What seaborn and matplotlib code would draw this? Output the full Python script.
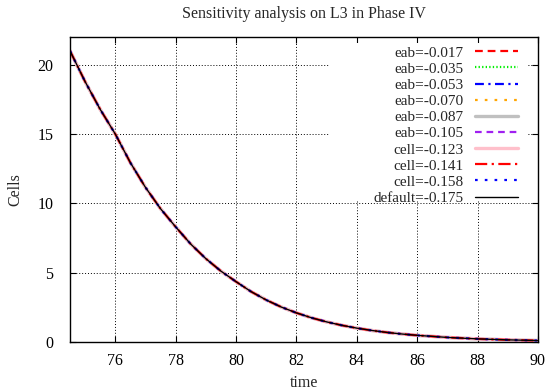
import matplotlib
matplotlib.use("Agg")
import matplotlib.pyplot as plt
from matplotlib.patches import Rectangle
import seaborn as sns
import pandas as pd

# ---- data ----
time = [74.5, 75.0, 75.5, 76.0, 76.5, 77.0, 77.5, 78.0, 78.5, 79.0, 79.5,
        80.0, 80.5, 81.0, 81.5, 82.0, 82.5, 83.0, 83.5, 84.0, 84.5, 85.0,
        85.5, 86.0, 87.0, 88.0, 89.0, 90.0]
cells = [21.0, 18.78, 16.78, 15.0, 12.93, 11.15, 9.61, 8.3, 7.06, 6.01, 5.11,
         4.35, 3.63, 3.03, 2.52, 2.1, 1.745, 1.45, 1.205, 1.0, 0.83, 0.69,
         0.575, 0.48, 0.33, 0.225, 0.155, 0.105]
series_labels = ["eab=-0.017", "eab=-0.035", "eab=-0.053", "eab=-0.070",
                 "eab=-0.087", "eab=-0.105", "cell=-0.123", "cell=-0.141",
                 "cell=-0.158", "default=-0.175"]
xticks = [76, 78, 80, 82, 84, 86, 88, 90]
yticks = [0, 5, 10, 15, 20]

# ---- styles ----
styles = [
    dict(color="#ff0000", lw=1.6, dashes=(3.5, 2.2)),
    dict(color="#00ee00", lw=1.6, dashes=(0.6, 1.0)),
    dict(color="#0000ff", lw=1.6, dashes=(4, 2, 1, 2)),
    dict(color="#ffa500", lw=1.6, dashes=(1.2, 3.2)),
    dict(color="#c0c0c0", lw=2.4, dashes=None),
    dict(color="#a020f0", lw=1.6, dashes=(3, 2.2)),
    dict(color="#ffc0cb", lw=2.4, dashes=None),
    dict(color="#ff0000", lw=1.6, dashes=(5.5, 2, 1, 2)),
    dict(color="#0000ff", lw=1.6, dashes=(1.2, 3.2)),
    dict(color="#000000", lw=1.0, dashes=None),
]

sns.set_theme(style="ticks")
plt.rcParams["font.family"] = ["Liberation Serif", "DejaVu Serif"]

fig = plt.figure(figsize=(5.47, 3.92), dpi=100)
ax = fig.add_axes([70 / 547, 50 / 392, 468 / 547, 305 / 392])

df = pd.DataFrame({"time": time, "Cells": cells})
for lab, st in zip(series_labels, styles):
    sns.lineplot(data=df, x="time", y="Cells", ax=ax, color=st["color"],
                 lw=st["lw"], label=lab)
    l = ax.get_lines()[-1]
    if st["dashes"] is not None:
        l.set_dashes(st["dashes"])

ax.set_xlim(74.5, 90)
ax.set_ylim(0, 22)
ax.set_xticks(xticks)
ax.set_yticks(yticks)
ax.grid(True, color="black", linestyle=(0, (1, 2)), linewidth=0.7)
ax.tick_params(direction="in", length=4, width=0.8, top=True, right=True,
               labelsize=11.5, colors="black")
ax.tick_params(axis="x", pad=8)
ax.tick_params(axis="y", pad=12)
for s in ax.spines.values():
    s.set_visible(True)
    s.set_color("black")
    s.set_linewidth(1.0)

ax.set_title("Sensitivity analysis on L3 in Phase IV", fontsize=11.5, pad=14)
ax.set_xlabel("time", fontsize=11.5, labelpad=4)
ax.set_ylabel("Cells", fontsize=11.5, labelpad=10)

# white key background (as in gnuplot)
ax.add_patch(Rectangle(((330 - 70) / 468, (342 - 200) / 305),
                       (528 - 330) / 468, (305 - 6 - 142) / 305,
                       transform=ax.transAxes, facecolor="white",
                       edgecolor="none", zorder=2.5))

leg = ax.legend(loc="upper right", bbox_to_anchor=((518 - 70) / 468, (342 - 46) / 305),
                frameon=False, markerfirst=False, fontsize=11,
                handlelength=2.8, handletextpad=0.75, labelspacing=0.16,
                borderaxespad=0.0, borderpad=0.0)
leg.set_zorder(3)

fig.savefig("out.png", dpi=100)
